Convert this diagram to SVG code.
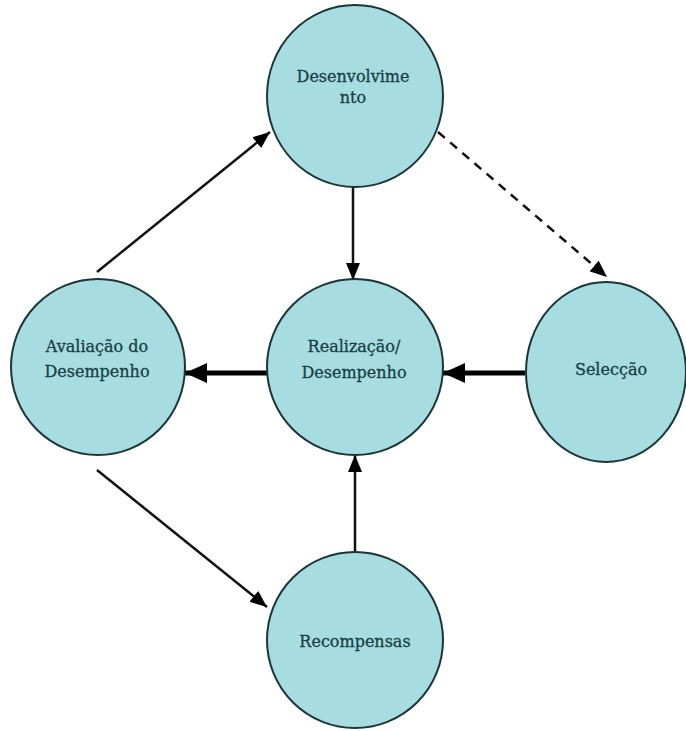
<svg xmlns="http://www.w3.org/2000/svg" width="686" height="731" viewBox="0 0 686 731">
  <style>
    .node { fill: #a7dce0; stroke: #1c3638; stroke-width: 2; }
    .label { font-family: 'DejaVu Serif', 'Liberation Serif', serif; font-size: 16px; fill: #173f45; stroke: #173f45; stroke-width: 0.3; text-anchor: middle; }
    .thin { stroke: #111; stroke-width: 2.5; fill: none; }
    .thick { stroke: #000; stroke-width: 5; fill: none; }
    .dash { stroke-dasharray: 9 7; }
  </style>
  <defs>
    <marker id="head" markerUnits="userSpaceOnUse" markerWidth="18" markerHeight="14" refX="17" refY="7" orient="auto">
      <path d="M0,0 L17,7 L0,14 z" fill="#000"/>
    </marker>
    <marker id="headBig" markerUnits="userSpaceOnUse" markerWidth="22" markerHeight="20" refX="22" refY="10" orient="auto">
      <path d="M0,0 L22,10 L0,20 z" fill="#000"/>
    </marker>
  </defs>
  <rect width="686" height="731" fill="#ffffff"/>

  <g id="connectors">
    <line class="thin" x1="97" y1="272" x2="270" y2="132" marker-end="url(#head)"/>
    <line class="thin dash" x1="438" y1="132" x2="607" y2="277" marker-end="url(#head)"/>
    <line class="thin" x1="97" y1="470" x2="267" y2="607" marker-end="url(#head)"/>
    <line class="thin" x1="353" y1="187" x2="353" y2="280" marker-end="url(#head)"/>
    <line class="thin" x1="355" y1="553" x2="355" y2="455" marker-end="url(#head)"/>
    <line class="thick" x1="268" y1="373" x2="185" y2="373" marker-end="url(#headBig)"/>
    <line class="thick" x1="525" y1="373" x2="443" y2="373" marker-end="url(#headBig)"/>
  </g>

  <g id="desenvolvimento">
    <ellipse class="node" cx="355" cy="96" rx="88" ry="91"/>
    <text class="label" x="353" y="82">Desenvolvime</text>
    <text class="label" x="353" y="103">nto</text>
  </g>

  <g id="realizacao">
    <ellipse class="node" cx="355" cy="367" rx="88" ry="88"/>
    <text class="label" x="354" y="352">Realização/</text>
    <text class="label" x="354" y="378">Desempenho</text>
  </g>

  <g id="avaliacao">
    <ellipse class="node" cx="98" cy="367" rx="87" ry="88"/>
    <text class="label" x="97" y="352">Avaliação do</text>
    <text class="label" x="97" y="377">Desempenho</text>
  </g>

  <g id="seleccao">
    <ellipse class="node" cx="606" cy="372" rx="80" ry="90"/>
    <text class="label" x="611" y="375">Selecção</text>
  </g>

  <g id="recompensas">
    <ellipse class="node" cx="355" cy="640" rx="88" ry="88"/>
    <text class="label" x="355" y="647">Recompensas</text>
  </g>
</svg>
